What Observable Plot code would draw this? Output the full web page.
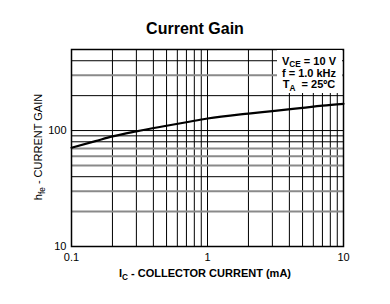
<!DOCTYPE html>
<html><head><meta charset="utf-8">
<script src="https://cdn.jsdelivr.net/npm/d3@7"></script>
<script src="https://cdn.jsdelivr.net/npm/@observablehq/plot@0.6"></script>
<style>body{margin:0;background:#fff;font-family:"Liberation Sans",Arial,sans-serif}</style>
</head><body><div id="chart"></div>
<script>
const currentMA = [0.1, 0.15, 0.2, 0.3, 0.5, 0.7, 1, 2, 3, 5, 7, 10];
const gain      = [71,  81,   89,  98.5, 110, 118, 127, 140, 147, 157, 164, 170];
const xGrid = [0.2,0.3,0.4,0.5,0.6,0.7,0.8,0.9,1,2,3,4,5,6,7,8,9];
const yGridBlack = [40, 80, 90, 100, 200, 400];
const yGridGray = [20, 30, 50, 60, 70, 300];
const xTicks = [0.1, 1, 10];
const yTicks = [10, 100, 500];

const data = currentMA.map((x, i) => ({x, y: gain[i]}));
const W = 390, H = 304, mT = 49, mL = 71, mR = 47, mB = 58;
const frameRight = W - mR;

const chart = Plot.plot({
  width: W, height: H,
  marginTop: mT, marginLeft: mL, marginRight: mR, marginBottom: mB,
  x: {type: "log", domain: [0.1, 10]},
  y: {type: "log", domain: [10, 500]},
  style: {fontFamily: "Liberation Sans, Arial, sans-serif", fontSize: "11px", color: "black", background: "white"},
  marks: [
    Plot.ruleX(xGrid, {stroke: "black", strokeWidth: 1}),
    Plot.ruleY(yGridGray, {stroke: "#8a8a8a", strokeWidth: 2}),
    Plot.ruleY(yGridBlack, {stroke: "black", strokeWidth: 1}),
    Plot.line(data, {x: "x", y: "y", stroke: "black", strokeWidth: 2.2, curve: "monotone-x"}),
    Plot.axisX(xTicks, {tickSize: 0, tickPadding: 7, label: null, tickFormat: d => String(d)}),
    Plot.axisY(yTicks, {tickSize: 0, tickPadding: 5, label: null, tickFormat: d => String(d)}),
    Plot.frame({stroke: "black", strokeWidth: 1.5})
  ]
});
document.getElementById("chart").appendChild(chart);

const NS = "http://www.w3.org/2000/svg";
const box = document.createElementNS(NS, "rect");
box.setAttribute("x", String(frameRight - 66));
box.setAttribute("y", String(mT + 1));
box.setAttribute("width", "65");
box.setAttribute("height", "43");
box.style.fill = "#ffffff";
chart.appendChild(box);

const svg = d3.select(chart);
const g = svg.append("g").attr("font-family", "Liberation Sans, Arial, sans-serif").attr("fill", "black");

// title
g.append("text").attr("x", 195).attr("y", 34).attr("text-anchor", "middle")
  .attr("font-size", 16).attr("font-weight", "bold").text("Current Gain");

function sublabel(parent, x, y, main, sub, rest, opts) {
  const t = parent.append("text").attr("x", x).attr("y", y).attr("text-anchor", "middle")
    .attr("font-size", opts.size).attr("font-weight", opts.weight);
  if (opts.rotate) t.attr("transform", `rotate(-90 ${x} ${y})`);
  t.append("tspan").text(main);
  if (sub) t.append("tspan").attr("font-size", opts.size * 0.75).attr("dy", 2.5).text(sub);
  if (rest) t.append("tspan").attr("dy", sub ? -2.5 : 0).text(rest);
  return t;
}
sublabel(g, 205, 277, "I", "C", " - COLLECTOR CURRENT (mA)", {size: 11, weight: "bold"});
sublabel(g, 42, 147, "h", "fe", " - CURRENT GAIN", {size: 11, weight: "normal", rotate: true});
const cx = frameRight - 34;
sublabel(g, cx, 64.5, "V", "CE", " = 10 V", {size: 11, weight: "bold"});
sublabel(g, cx, 76.5, "f = 1.0 kHz", null, null, {size: 11, weight: "bold"});
sublabel(g, cx, 88, "T", "A", "  = 25ºC", {size: 11, weight: "bold"});
</script></body></html>
